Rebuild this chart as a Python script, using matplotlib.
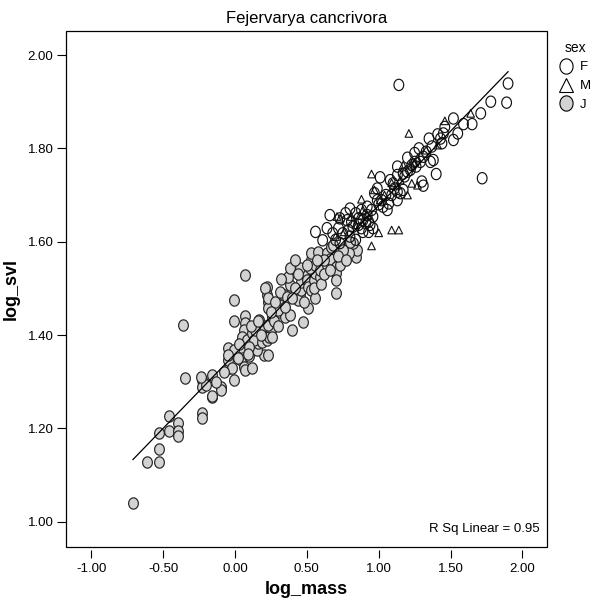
import numpy as np
import matplotlib
matplotlib.use("Agg")
import matplotlib.pyplot as plt
from matplotlib.path import Path
from matplotlib.lines import Line2D
from matplotlib.patches import Rectangle

plt.rcParams['font.family'] = ['Liberation Sans', 'DejaVu Sans']

# juveniles (J)
J_mass = [-0.71, -0.61, -0.53, -0.53, -0.53, -0.46, -0.46, -0.40, -0.40, -0.40,
          -0.23, -0.23, -0.16, -0.10, -0.10, -0.23, -0.23, -0.35, -0.36, -0.16,
          -0.16, -0.01, -0.20, -0.24, -0.04, -0.05, -0.05, 0.01, 0.04, 0.06,
          0.07, 0.10, 0.12, 0.04, -0.01, 0.20, 0.23, 0.15, 0.16, -0.01,
          -0.01, 0.07, 0.07, 0.07, 0.06, 0.05, 0.08, 0.12, 0.13, 0.10,
          0.17, 0.19, 0.20, 0.19, 0.22, 0.24, 0.26, 0.23, 0.26, 0.22,
          0.22, 0.23, 0.23, 0.26, 0.30, 0.33, 0.34, 0.31, 0.38, 0.37,
          0.38, 0.36, 0.35, 0.38, 0.40, 0.47, 0.45, 0.44, 0.46, 0.46,
          0.48, 0.45, 0.51, 0.50, 0.51, 0.53, 0.55, 0.56, 0.52, 0.53,
          0.56, 0.53, 0.56, 0.59, 0.59, 0.64, 0.61, 0.58, 0.64, 0.66,
          0.67, 0.70, 0.70, 0.70, 0.70, 0.73, 0.75, 0.78, 0.81, 0.84,
          0.85, 0.79, 0.82, 0.68, 0.75, -0.05, 0.21, 0.23, 0.30, 0.28,
          0.32, 0.42, 0.48, 0.55, 0.60, 0.62, 0.66, 0.44, 0.40, 0.27,
          0.14, 0.09, 0.02, -0.02, 0.11, 0.18, 0.30, 0.35, 0.72, 0.77,
          0.80, 0.62, 0.50, 0.42, -0.08, -0.13, 0.03, 0.16, 0.25, 0.57]
J_svl = [1.040, 1.128, 1.128, 1.155, 1.189, 1.227, 1.195, 1.211, 1.195, 1.184,
         1.233, 1.222, 1.267, 1.289, 1.282, 1.304, 1.289, 1.308, 1.421, 1.314,
         1.269, 1.304, 1.293, 1.311, 1.329, 1.346, 1.372, 1.361, 1.346, 1.332,
         1.325, 1.354, 1.329, 1.375, 1.368, 1.357, 1.357, 1.368, 1.382, 1.474,
         1.430, 1.529, 1.441, 1.425, 1.411, 1.396, 1.389, 1.404, 1.389, 1.375,
         1.432, 1.414, 1.396, 1.386, 1.389, 1.396, 1.414, 1.421, 1.396, 1.504,
         1.486, 1.471, 1.457, 1.439, 1.450, 1.464, 1.486, 1.493, 1.507, 1.525,
         1.543, 1.482, 1.439, 1.443, 1.411, 1.428, 1.486, 1.475, 1.496, 1.514,
         1.532, 1.543, 1.457, 1.518, 1.504, 1.496, 1.518, 1.532, 1.543, 1.561,
         1.550, 1.575, 1.479, 1.525, 1.539, 1.550, 1.568, 1.579, 1.575, 1.564,
         1.589, 1.546, 1.532, 1.518, 1.489, 1.550, 1.575, 1.589, 1.593, 1.568,
         1.582, 1.575, 1.597, 1.593, 1.582, 1.357, 1.500, 1.479, 1.454, 1.470,
         1.520, 1.500, 1.470, 1.500, 1.510, 1.530, 1.540, 1.530, 1.480, 1.430,
         1.410, 1.360, 1.350, 1.330, 1.420, 1.400, 1.420, 1.460, 1.570, 1.560,
         1.600, 1.560, 1.550, 1.560, 1.320, 1.300, 1.380, 1.430, 1.450, 1.560]

# females (F)
F_mass = [1.78, 1.71, 1.65, 1.59, 1.52, 1.55, 1.52, 1.46, 1.45, 1.43,
          1.44, 1.35, 1.37, 1.33, 1.31, 1.36, 1.38, 1.40, 1.72, 1.29,
          1.25, 1.23, 1.26, 1.22, 1.20, 1.17, 1.13, 1.13, 1.31, 1.30,
          1.01, 1.08, 1.10, 1.11, 1.13, 1.09, 1.13, 1.15, 1.17, 0.99,
          0.97, 0.99, 1.02, 1.03, 1.06, 1.07, 0.92, 0.88, 0.84, 0.86,
          0.89, 0.92, 0.95, 0.96, 0.94, 0.96, 0.93, 0.80, 0.77, 0.73,
          0.78, 0.81, 0.82, 0.86, 0.88, 0.89, 0.93, 0.68, 0.72, 0.75,
          0.79, 0.80, 0.84, 0.70, 0.73, 1.14, 1.90, 1.89, 0.56, 0.61,
          0.64, 0.66, 1.20, 1.25, 1.28, 1.05, 1.00, 0.91, 1.18, 1.41]
F_svl = [1.900, 1.875, 1.852, 1.852, 1.864, 1.832, 1.818, 1.846, 1.832, 1.821,
         1.811, 1.821, 1.804, 1.793, 1.782, 1.771, 1.775, 1.745, 1.736, 1.771,
         1.771, 1.764, 1.761, 1.754, 1.750, 1.746, 1.761, 1.743, 1.720, 1.729,
         1.738, 1.732, 1.725, 1.714, 1.707, 1.700, 1.689, 1.704, 1.711, 1.714,
         1.704, 1.689, 1.689, 1.675, 1.668, 1.682, 1.675, 1.668, 1.661, 1.650,
         1.646, 1.657, 1.668, 1.654, 1.636, 1.629, 1.643, 1.671, 1.661, 1.650,
         1.646, 1.643, 1.632, 1.636, 1.629, 1.621, 1.621, 1.618, 1.629, 1.618,
         1.625, 1.611, 1.604, 1.604, 1.597, 1.936, 1.939, 1.898, 1.621, 1.603,
         1.629, 1.657, 1.780, 1.790, 1.800, 1.700, 1.680, 1.640, 1.740, 1.830]

# males (M)
M_mass = [1.21, 1.46, 1.64, 0.95, 1.23, 1.27, 1.20, 0.88, 1.00, 1.09,
          1.14, 0.95, 0.73, 0.71, 0.81, 0.97, 1.09, 1.25, 1.27, 1.23,
          1.33, 1.41, 0.89, 0.87, 1.13, 0.70, 1.01, 1.15, 1.04, 0.84,
          0.92, 1.17, 0.76]
M_svl = [1.832, 1.859, 1.875, 1.745, 1.725, 1.721, 1.700, 1.691, 1.619, 1.625,
         1.625, 1.591, 1.650, 1.654, 1.654, 1.711, 1.726, 1.770, 1.779, 1.764,
         1.796, 1.807, 1.668, 1.657, 1.721, 1.611, 1.689, 1.732, 1.700, 1.636,
         1.657, 1.764, 1.621]

x_ticks = [-1.0, -0.5, 0.0, 0.5, 1.0, 1.5, 2.0]
y_ticks = [1.0, 1.2, 1.4, 1.6, 1.8, 2.0]

# slightly tall ellipse like SPSS markers
t = np.linspace(0, 2 * np.pi, 60)
ellipse = Path(np.column_stack([0.86 * np.cos(t), np.sin(t)]), closed=True)

fig = plt.figure(figsize=(5.99, 6.02), dpi=100)
ax = fig.add_axes([0.1102, 0.0914, 0.8025, 0.857])

ax.scatter(J_mass, J_svl, marker=ellipse, s=66, facecolor='#d3d3d3',
           edgecolor='#222222', linewidth=0.85, zorder=2)
ax.scatter(F_mass, F_svl, marker=ellipse, s=66, facecolor='none',
           edgecolor='#111111', linewidth=0.85, zorder=3)
ax.scatter(M_mass, M_svl, marker='^', s=30, facecolor='none',
           edgecolor='#111111', linewidth=0.8, zorder=4)

# linear fit over all points
all_x = np.array(J_mass + F_mass + M_mass)
all_y = np.array(J_svl + F_svl + M_svl)
k, b = np.polyfit(all_x, all_y, 1)
xx = np.array([all_x.min(), all_x.max()])
ax.plot(xx, k * xx + b, color='black', lw=0.9, zorder=5)

ax.set_xlim(-1.176, 2.169)
ax.set_ylim(0.9458, 2.0514)
ax.set_xticks(x_ticks)
ax.set_yticks(y_ticks)
ax.set_xticklabels(['%.2f' % v for v in x_ticks])
ax.set_yticklabels(['%.2f' % v for v in y_ticks])

for sp in ax.spines.values():
    sp.set_visible(False)
ax.spines['bottom'].set_position(('outward', 2.5))
ax.add_patch(Rectangle((0, 0), 1, 1, transform=ax.transAxes, fill=False,
                       lw=0.9, edgecolor='black', clip_on=False, zorder=6))
ax.tick_params(axis='x', direction='out', length=6, width=0.8, pad=3, labelsize=9.5)
ax.tick_params(axis='y', direction='out', length=6.5, width=0.8, pad=2.5, labelsize=9.5)

ax.set_title('Fejervarya cancrivora', fontsize=12, pad=6)
ax.set_xlabel('log_mass', fontsize=13, fontweight='bold', labelpad=4)
ax.set_ylabel('log_svl', fontsize=13, fontweight='bold', labelpad=6)

ax.text(0.87, 0.035, 'R Sq Linear = 0.95', transform=ax.transAxes,
        ha='center', va='center', fontsize=9.5)

handles = [
    Line2D([], [], ls='none', marker=ellipse, ms=11, mfc='white', mec='black', mew=0.8),
    Line2D([], [], ls='none', marker='^', ms=10, mfc='white', mec='black', mew=0.8),
    Line2D([], [], ls='none', marker=ellipse, ms=11, mfc='#d3d3d3', mec='black', mew=0.8),
]
leg = fig.legend(handles, ['F', 'M', 'J'], title='sex', loc='upper left',
                 bbox_to_anchor=(0.918, 0.948), frameon=False, fontsize=9.5,
                 title_fontsize=10, handlelength=1.0, handletextpad=0.6,
                 labelspacing=0.5, borderpad=0.2)

fig.savefig('out.png', dpi=100)
